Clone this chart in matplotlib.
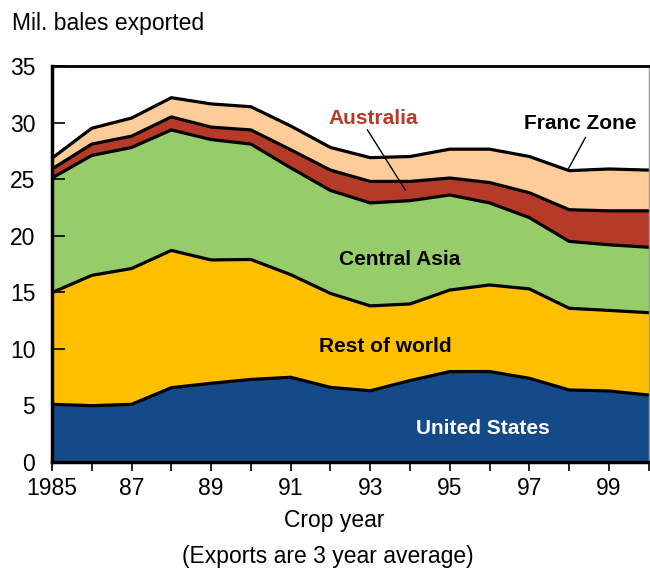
import matplotlib
matplotlib.use("Agg")
import matplotlib.pyplot as plt
import numpy as np

plt.rcParams['font.family'] = ['Liberation Sans', 'DejaVu Sans']

# Crop years and exports by origin (mil. bales, 3-year average)
years = list(range(1985, 2001))
united_states = [5.10, 4.98, 5.10, 6.57, 6.96, 7.30, 7.49, 6.60, 6.30, 7.20, 7.99, 8.00, 7.40, 6.37, 6.28, 5.92]
rest_of_world = [9.87, 11.52, 12.00, 12.13, 10.90, 10.60, 9.07, 8.30, 7.50, 6.77, 7.21, 7.65, 7.90, 7.22, 7.12, 7.28]
central_asia = [10.13, 10.60, 10.70, 10.65, 10.64, 10.20, 9.44, 9.10, 9.10, 9.13, 8.40, 7.25, 6.30, 5.91, 5.80, 5.78]
australia = [0.80, 1.00, 1.00, 1.15, 1.10, 1.25, 1.60, 1.80, 1.90, 1.70, 1.50, 1.80, 2.20, 2.80, 3.00, 3.22]
franc_zone = [0.95, 1.40, 1.60, 1.70, 2.05, 2.05, 2.10, 2.00, 2.10, 2.20, 2.55, 2.95, 3.20, 3.45, 3.70, 3.60]

series = [united_states, rest_of_world, central_asia, australia, franc_zone]
colors = ['#154a88', '#fdbf00', '#96cc6a', '#b53a28', '#fecc99']

x_ticks = list(range(1985, 2001))
x_labels = ['1985', '', '87', '', '89', '', '91', '', '93', '', '95', '', '97', '', '99', '']
y_ticks = [0, 5, 10, 15, 20, 25, 30, 35]

fig = plt.figure(figsize=(6.5, 5.69), dpi=100)
ax = fig.add_axes([0.08, 0.188, 0.918, 0.696])

bottom = np.zeros(len(years))
for vals, col in zip(series, colors):
    top = bottom + np.array(vals)
    ax.fill_between(years, bottom, top, color=col, linewidth=0)
    ax.plot(years, top, color='black', linewidth=2.3, solid_joinstyle='round')
    bottom = top

ax.set_xlim(1985, 2000)
ax.set_ylim(0, 35)
ax.set_xticks(x_ticks)
ax.set_xticklabels(x_labels)
ax.set_yticks(y_ticks)
ax.tick_params(axis='y', direction='in', length=9, width=1.2, labelsize=16.5, pad=12)
ax.tick_params(axis='x', direction='out', length=6.5, width=1.2, labelsize=16.5, pad=4)

for side in ['left', 'bottom']:
    ax.spines[side].set_linewidth(2.5)
ax.spines['top'].set_linewidth(2)
ax.spines['right'].set_linewidth(1)
ax.spines['right'].set_color('#999999')

fig.text(0.515, 0.0844, 'Crop year', ha='center', va='center', fontsize=16.5)
fig.text(0.505, 0.0228, '(Exports are 3 year average)', ha='center', va='center', fontsize=16.5)
fig.text(0.018, 0.958, 'Mil. bales exported', ha='left', va='center', fontsize=16.5)

bold = dict(fontsize=15, fontweight='bold', ha='center', va='center')
ax.text(1993.08, 30.33, 'Australia', color='#b53a28', **bold)
ax.text(1998.28, 29.95, 'Franc Zone', color='black', **bold)
ax.text(1993.75, 17.86, 'Central Asia', color='black', **bold)
ax.text(1993.39, 10.17, 'Rest of world', color='black', **bold)
ax.text(1995.84, 3.0, 'United States', color='white', **bold)

ax.plot([1992.93, 1993.88], [29.35, 24.05], color='black', linewidth=1)
ax.plot([1998.41, 1997.99], [28.68, 25.97], color='black', linewidth=1)

fig.savefig('out.png', dpi=100)
